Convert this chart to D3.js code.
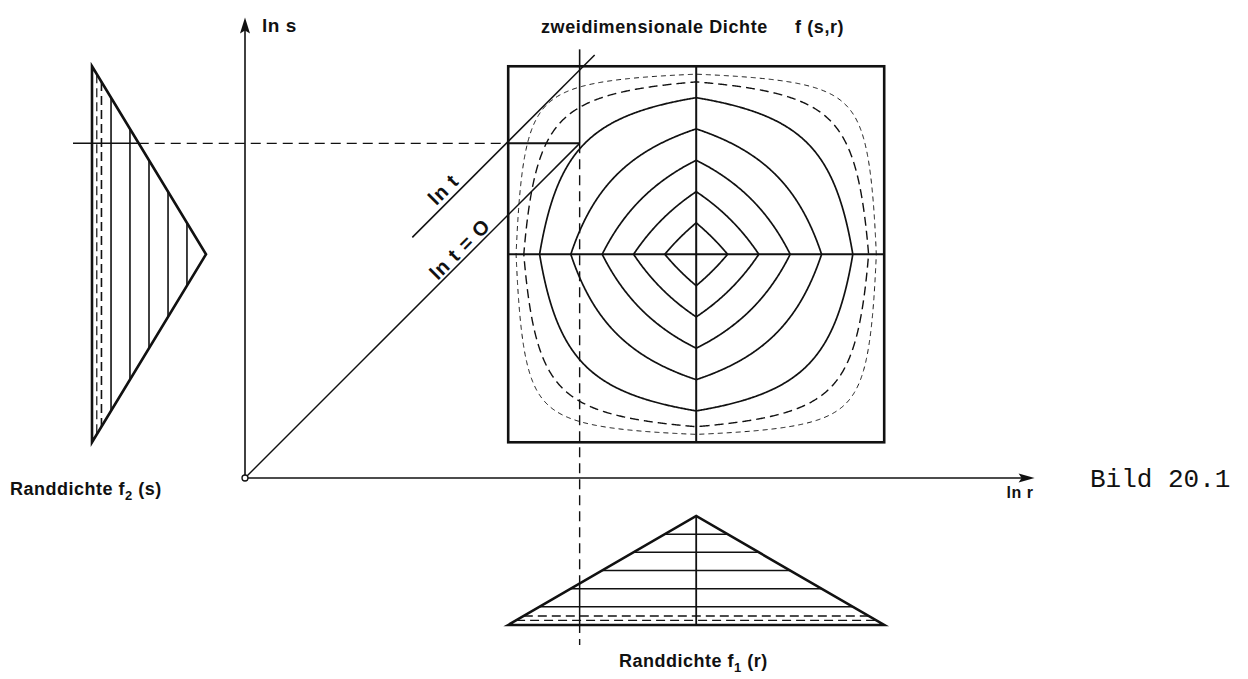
<!DOCTYPE html>
<html>
<head>
<meta charset="utf-8">
<script src="https://cdn.jsdelivr.net/npm/d3@7"></script>
<style>
  html, body { margin: 0; padding: 0; background: #fff; }
  svg { display: block; }
  .lbl { font-family: "Liberation Sans", Arial, sans-serif; font-weight: bold; fill: #111; }
  .bild { font-family: "Liberation Mono", "DejaVu Sans Mono", monospace; fill: #111; }
</style>
</head>
<body>
<svg id="chart" width="1248" height="679"></svg>
<script>
// Triangular marginal densities of ln r and ln s
const modeLnR = 2.4;
const modeLnS = 1.19;
const halfWidth = 1;

// Density levels: solid contours / hatch lines and the two low dashed ones
const solidLevels = [0.167, 0.333, 0.5, 0.667, 0.833];
const dashedLevels = [0.083, 0.042];

// Reading point on both axes and the ln t line
const lnR0 = 1.78;
const lnS0 = 1.78;
const lnTOffset = 0.39;
const lnTSpan = [0.89, 1.86];

// Axis extents
const lnRMax = 4.2;
const lnSMax = 2.45;

// Text
const titleMain = "zweidimensionale Dichte";
const titleFn = "f (s,r)";
const axisLabelS = "ln s";
const axisLabelR = "ln r";
const labelLnT = "ln t";
const labelLnT0 = "ln t = O";
const figureLabel = "Bild 20.1";

const svg = d3.select("#chart");
const unit = 188;
const x = d3.scaleLinear().domain([0, lnRMax]).range([245, 245 + lnRMax * unit]);
const y = d3.scaleLinear().domain([0, lnSMax]).range([478, 478 - lnSMax * unit]);
// heights of the marginal triangles
const f1Scale = d3.scaleLinear().domain([0, 1]).range([625, 516]);
const f2Scale = d3.scaleLinear().domain([0, 1]).range([92, 206]);

const tri = (v, m) => Math.max(0, 1 - Math.abs(v - m) / halfWidth);
const f1 = r => tri(r, modeLnR);
const f2 = s => tri(s, modeLnS);

const ink = "#111";
const line = (g, x1, y1, x2, y2, w, dash) => g.append("line")
  .attr("x1", x1).attr("y1", y1).attr("x2", x2).attr("y2", y2)
  .attr("stroke", ink).attr("stroke-width", w)
  .attr("stroke-dasharray", dash || null).attr("fill", "none");

// ---- two-dimensional density f(s,r) = f1(r) f2(s) ----
const plot = svg.append("g");
const n = 401;
const values = new Float64Array(n * n);
const rAt = g => modeLnR - halfWidth + 2 * halfWidth * (g - 0.5) / (n - 1);
const sAt = g => modeLnS + halfWidth - 2 * halfWidth * (g - 0.5) / (n - 1);
for (let j = 0; j < n; j++) {
  for (let i = 0; i < n; i++) {
    values[j * n + i] = f1(rAt(i + 0.5)) * f2(sAt(j + 0.5));
  }
}
const toScreen = d3.geoTransform({
  point(px, py) { this.stream.point(x(rAt(px)), y(sAt(py))); }
});
const geo = d3.geoPath(toScreen);
const contourGen = d3.contours().size([n, n]).smooth(true);

plot.selectAll("path.solid")
  .data(contourGen.thresholds(solidLevels)(values))
  .join("path").attr("class", "solid")
  .attr("d", geo).attr("fill", "none").attr("stroke", ink).attr("stroke-width", 1.7);

const dashStyles = [["9,5", 1.4], ["5,4", 1.0]];
dashedLevels.forEach((lv, k) => {
  plot.append("path")
    .datum(contourGen.thresholds([lv])(values)[0])
    .attr("d", geo).attr("fill", "none").attr("stroke", ink)
    .attr("stroke-width", dashStyles[k][1]).attr("stroke-dasharray", dashStyles[k][0]);
});

// frame of the support and the cross through the modes
const rLo = modeLnR - halfWidth, rHi = modeLnR + halfWidth;
const sLo = modeLnS - halfWidth, sHi = modeLnS + halfWidth;
line(plot, x(modeLnR), y(sHi), x(modeLnR), y(sLo), 2);
line(plot, x(rLo), y(modeLnS), x(rHi), y(modeLnS), 2);
plot.append("rect")
  .attr("x", x(rLo)).attr("y", y(sHi))
  .attr("width", x(rHi) - x(rLo)).attr("height", y(sLo) - y(sHi))
  .attr("fill", "none").attr("stroke", ink).attr("stroke-width", 2.6);

// ---- marginal f1(r) below ----
const m1 = svg.append("g");
solidLevels.forEach(c => {
  const w = halfWidth * (1 - c);
  line(m1, x(modeLnR - w), f1Scale(c), x(modeLnR + w), f1Scale(c), 1.6);
});
dashedLevels.forEach((c, k) => {
  const w = halfWidth * (1 - c);
  line(m1, x(modeLnR - w), f1Scale(c), x(modeLnR + w), f1Scale(c), dashStyles[k][1] + 0.2, "9,5");
});
line(m1, x(modeLnR), f1Scale(1), x(modeLnR), f1Scale(0), 1.8);
m1.append("path")
  .attr("d", d3.line()([[x(rLo), f1Scale(0)], [x(modeLnR), f1Scale(1)], [x(rHi), f1Scale(0)]]) + "Z")
  .attr("fill", "none").attr("stroke", ink).attr("stroke-width", 2.6).attr("stroke-linejoin", "miter");

// ---- marginal f2(s) at the left ----
const m2 = svg.append("g");
solidLevels.forEach(c => {
  const w = halfWidth * (1 - c);
  line(m2, f2Scale(c), y(modeLnS + w), f2Scale(c), y(modeLnS - w), 1.6);
});
dashedLevels.forEach((c, k) => {
  const w = halfWidth * (1 - c);
  line(m2, f2Scale(c), y(modeLnS + w), f2Scale(c), y(modeLnS - w), dashStyles[k][1] + 0.2, "9,5");
});
m2.append("path")
  .attr("d", d3.line()([[f2Scale(0), y(sHi)], [f2Scale(1), y(modeLnS)], [f2Scale(0), y(sLo)]]) + "Z")
  .attr("fill", "none").attr("stroke", ink).attr("stroke-width", 2.6).attr("stroke-linejoin", "miter");

// ---- reading lines at (lnR0, lnS0) ----
const guide = svg.append("g");
const gy = y(lnS0), gx = x(lnR0);
line(guide, f2Scale(0) - 19, gy, f2Scale(f2(lnS0)), gy, 1.5);
line(guide, f2Scale(f2(lnS0)), gy, x(rLo), gy, 1.4, "10,6");
line(guide, x(rLo), gy, gx, gy, 2);
line(guide, gx, gy, gx, y(2.28), 1.6);
line(guide, gx, gy, gx, f1Scale(f1(lnR0)), 1.4, "10,6");
line(guide, gx, f1Scale(f1(lnR0)), gx, f1Scale(0), 1.5);
line(guide, gx, f1Scale(0), gx, f1Scale(0) + 20, 1.4, "8,6");

// diagonals: ln t = 0 and ln t
line(guide, x(0), y(0), gx, gy, 1.5);
line(guide, x(lnTSpan[0]), y(lnTSpan[0] + lnTOffset), x(lnTSpan[1]), y(lnTSpan[1] + lnTOffset), 1.5);

// ---- axes ----
const axes = svg.append("g");
line(axes, x(0), y(0), x(lnRMax) - 6, y(0), 1.6);
line(axes, x(0), y(0), x(0), y(lnSMax) + 6, 1.6);
axes.append("path")
  .attr("d", d3.line()([[x(lnRMax), y(0)], [x(lnRMax) - 16, y(0) - 4.5], [x(lnRMax) - 13, y(0)], [x(lnRMax) - 16, y(0) + 4.5]]) + "Z")
  .attr("fill", ink);
axes.append("path")
  .attr("d", d3.line()([[x(0), y(lnSMax)], [x(0) - 5, y(lnSMax) + 16], [x(0), y(lnSMax) + 13], [x(0) + 5, y(lnSMax) + 16]]) + "Z")
  .attr("fill", ink);
axes.append("circle").attr("cx", x(0)).attr("cy", y(0)).attr("r", 3)
  .attr("fill", "#fff").attr("stroke", ink).attr("stroke-width", 1.3);

// ---- labels ----
const lbl = svg.append("g");
lbl.append("text").attr("class", "lbl").attr("x", x(0) + 17).attr("y", 32)
  .attr("font-size", 19).attr("letter-spacing", 0.5).text(axisLabelS);
lbl.append("text").attr("class", "lbl").attr("x", x(lnRMax) - 28).attr("y", y(0) + 20)
  .attr("font-size", 16).attr("letter-spacing", 0.5).text(axisLabelR);

const title = lbl.append("text").attr("class", "lbl").attr("y", 33).attr("font-size", 18).attr("letter-spacing", 0.6);
title.append("tspan").attr("x", 541).text(titleMain);
title.append("tspan").attr("x", 795).text(titleFn);

function marginLabel(xPos, yPos, sub, arg) {
  const t = lbl.append("text").attr("class", "lbl").attr("x", xPos).attr("y", yPos)
    .attr("font-size", 18).attr("letter-spacing", 0.5);
  t.append("tspan").text("Randdichte f");
  t.append("tspan").attr("font-size", 13).attr("dy", 5).text(sub);
  t.append("tspan").attr("dy", -5).text(" (" + arg + ")");
}
marginLabel(10, y(0) + 17, "2", "s");
marginLabel(619, 667, "1", "r");

function diagLabel(r, off, gap, txt) {
  lbl.append("text").attr("class", "lbl")
    .attr("transform", `translate(${x(r)},${y(r + off)}) rotate(-45)`)
    .attr("x", 0).attr("y", -gap).attr("text-anchor", "middle")
    .attr("font-size", 20).attr("letter-spacing", 1).text(txt);
}
diagLabel(1.10, lnTOffset, 5, labelLnT);
diagLabel(1.18, 0, 3, labelLnT0);

lbl.append("text").attr("class", "bild").attr("x", 1090).attr("y", y(0) + 9)
  .attr("font-size", 26).text(figureLabel);
</script>
</body>
</html>
